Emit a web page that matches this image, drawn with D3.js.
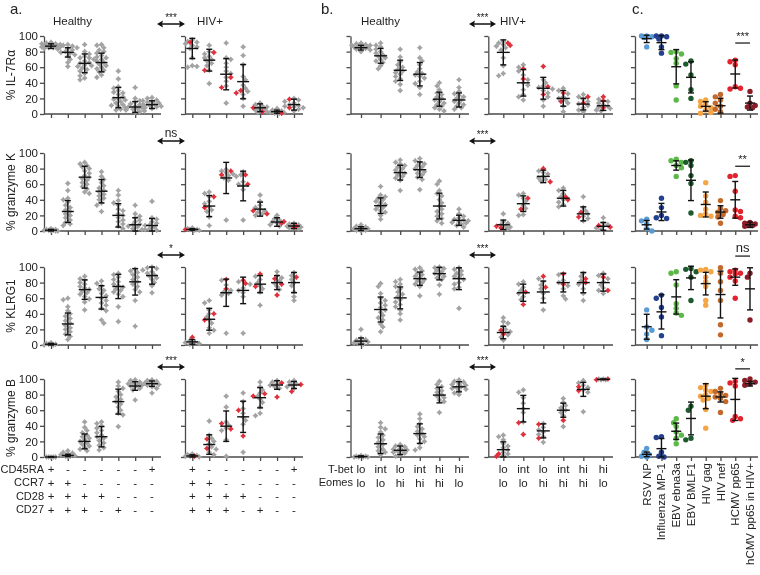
<!DOCTYPE html>
<html><head><meta charset="utf-8">
<script src="https://cdn.jsdelivr.net/npm/d3@7"></script>
<style>
body{margin:0;background:#fff}
svg{display:block;will-change:transform}
text{font-family:"Liberation Sans",Arial,sans-serif;fill:#222}
</style>
</head><body>
<svg id="chart" width="760" height="575"></svg>
<script>
// ---------------- DATA ----------------
const rowTitles = ["% IL-7R\u03b1", "% granzyme K", "% KLRG1", "% granzyme B"];
const aSig = ["***", "ns", "*", "***"];
const bSig = ["***", "***", "***", "***"];
const cSig = ["***", "**", "ns", "*"];
const cSigLevel = [91, 83, 114, 113];

const aMarkers = ["CD45RA", "CCR7", "CD28", "CD27"];
const aSigns = [
  ["+","-","-","-","-","-","+"],
  ["+","+","-","-","-","-","-"],
  ["+","+","+","+","-","-","-"],
  ["+","+","+","-","+","-","-"]
];
const bMarkers = ["T-bet", "Eomes"];
const bSigns = [
  ["lo","int","lo","int","hi","hi"],
  ["lo","lo","hi","hi","hi","lo"]
];
const cCats = ["RSV NP","Influenza MP-1","EBV ebna3a","EBV BMLF1","HIV gag","HIV nef","HCMV pp65","hCMV pp65 in HIV+"];
const cColors = ["#5b9bd5","#24418f","#5cb847","#1d5a2e","#f6a545","#c2692c","#e2232e","#8a1c27"];

// Panel a, healthy
const aH_mean = [
  [87,79,65,66,21,9,12],
  [1,25,69,51,20,8,7],
  [1,27,71,61,75,81,89],
  [0,2,20,26,71,91,94]
];
const aH_sd = [
  [3,6,12,12,13,7,5],
  [1,14,14,15,15,9,9],
  [1,14,12.5,15,15.5,17,11],
  [0.5,1.5,9.5,13,16,5.5,3.5]
];
const aH_pts = [
  [[92,90,89,88,88,87,87,86,86,85,85,84,90,88,86,83,91,87],
   [89,87,86,85,82,80,79,78,76,74,70,66,61,88,84],
   [89,80,77,74,72,70,68,66,65,63,61,59,57,55,52,49,46,44,72,62],
   [89,88,85,82,80,78,75,72,70,68,66,64,62,60,58,56,54,50,47,73],
   [55,45,35,33,30,27,25,22,20,18,16,14,12,10,8,6,5,28,19,11],
   [34,20,17,15,13,11,10,9,8,7,6,5,4,3,2,12],
   [21,20,18,16,15,14,13,12,11,10,9,8,7,17]],
  [[3,2,2,1,1,1,0,0,0],
   [61,52,42,40,37,33,30,27,25,22,20,17,14,11,9,7],
   [88,86,84,82,80,77,74,71,69,67,65,62,60,57,54,50,48],
   [76,70,66,62,58,55,52,50,47,45,42,40,36,33,25],
   [52,46,39,36,33,28,26,22,20,17,14,12,9,6,3],
   [33,22,19,17,14,12,9,8,6,5,3,2],
   [38,17,15,12,10,8,7,5,3,2,1]],
  [[3,2,1,1,0,0],
   [60,58,49,44,40,37,34,31,28,25,22,20,17,14,11,7],
   [88,85,83,80,78,75,73,71,69,67,65,62,59,55,45],
   [82,79,76,72,70,66,63,60,57,54,51,47,44,32,28],
   [92,90,87,84,81,78,76,74,72,70,68,65,62,49,30],
   [97,95,93,90,87,84,81,78,75,71,68,57,24],
   [100,99,98,96,94,92,90,88,86,84,80,76,67]],
  [[0,0,0,0,0],
   [8,6,5,4,3,2,1,1,0],
   [45,38,34,31,28,26,24,22,20,18,16,14,12,10,8],
   [45,43,40,37,34,31,28,26,24,21,18,15,12,9],
   [96,91,88,84,80,77,74,71,68,64,60,56,54,39],
   [99,98,96,95,94,93,92,91,90,88,86,73],
   [99,98,97,96,95,94,93,92,90,88,82]]
];

// Panel a, HIV+
const aV_mean = [
  [84,69,51,41.5,8,3,12],
  [2,32,68,57.7,28,11.5,6.4],
  [4,33,67,70,78,80,80],
  [1.3,16,39.5,51.5,76,92.3,92.3]
];
const aV_sd = [
  [13,14,20,22,5,2,7],
  [1,13.5,20,19,9,5.5,3.5],
  [3,14,17.5,17,11,9,13],
  [1.5,12.5,19.5,20,13,5.5,4.5]
];
const aV_pts = [
  [[95,93,92,90,88,86,84,72,62,60,61],[88,80,77,74,72,70,68,65,62,56,39],[91,72,70,65,60,55,52,47,42,36,14],[86,75,63,48,44,37,33,29,25,20,10],[14,12,10,9,8,7,6,5,3,2],[7,5,4,3,2,1,1,2],[20,18,16,14,12,11,10,9,8,6,4]],
  [[4,3,2,2,1,1],[50,48,44,38,35,31,27,25,18,7],[79,77,75,73,71,68,65,14],[76,72,70,63,60,58,53,14],[46,38,33,30,28,26,24,22,20],[20,16,14,12,10,8,6],[10,9,8,7,6,5,4,3]],
  [[6,4,3,2,1],[57,54,45,40,36,32,28,22,19,15],[83,77,70,68,66,64,15],[81,78,73,70,67,62,15],[88,84,80,76,72,68,51],[94,89,86,82,79,75,71],[93,89,84,80,76,68,62,57]],
  [[4,3,2,1,1,0],[46,28,24,20,17,13,10,6,3],[78,64,45,41,37,34,22,1],[82,71,62,56,51,47,42,6],[96,90,86,82,78,74,70,64,56,53],[98,96,94,92,90,88],[98,96,94,92,90,88]]
];
const aV_red = [
  [[92],[79,56],[47,34],[30,27],[3,8],[1],[19,8]],
  [[2],[44,30],[77,72],[72,60],[26,22],[12,10],[6,5]],
  [[10],[40,32],[84,72],[83,79],[91,75],[78,64,85],[87]],
  [[1],[23,11],[43,36],[60,27],[81,78],[95,77],[84,93]]
];

// Panel b, healthy
const bH_mean = [
  [85,74.6,56,51,19,18],
  [3,32.5,74.8,78.6,32,13.7],
  [5,45.5,60.4,85,91.5,85],
  [0.5,17,8.6,30,79.4,90]
];
const bH_sd = [
  [3,9.5,13,15,9,9],
  [2.5,10,9.5,10,16.5,6.5],
  [4,16,14,8.5,8,14],
  [1,12.5,5.5,12.5,10,6.5]
];
const bH_pts = [
  [[91,90,89,88,87,86,85,84,83,82,80,88,86,87],[91,88,86,83,80,78,76,74,72,70,68,66,62,58],[83,73,67,63,60,57,55,53,51,48,45,42,38,30],[85,72,68,63,58,54,52,50,48,46,42,39,34,25],[40,36,31,27,25,22,20,18,16,14,12,10,8,6,4],[44,34,29,26,24,22,20,18,16,14,12,10,8,6]],
  [[8,6,5,4,3,3,2,2,1,1,0],[57,46,44,42,40,38,36,34,32,30,28,26,24,20,15],[91,88,86,84,82,80,78,76,74,72,70,68,65,52],[93,90,88,86,84,82,80,78,76,74,72,69,66,53],[64,60,52,48,45,40,36,32,28,25,22,19,16,13,10],[28,22,19,17,15,14,13,12,11,10,9,7,5]],
  [[20,9,7,6,5,4,3,2,1],[79,75,66,60,57,54,51,48,45,42,38,35,32,27,23,17],[84,81,78,75,72,68,65,62,58,55,52,49,45,40,32],[99,97,95,92,90,88,86,84,82,80,78,75,63],[100,99,98,96,94,92,90,88,86,84,77,65],[99,97,95,92,90,88,86,84,80,78,74,72,47]],
  [[2,1,1,0,0,0,0],[44,38,36,32,28,25,22,19,16,13,10,8,6,3],[16,14,13,11,10,9,8,7,6,5,3,1],[55,49,43,39,36,33,30,28,26,23,20,17,12,9],[97,93,90,88,85,83,80,78,76,73,71,57],[99,97,96,94,93,92,90,89,88,87,85,82,80]]
];

// Panel b, HIV+
const bV_mean = [
  [79,40,33,20,12.7,10.6],
  [8,35,70,42,22,6],
  [16,67,68,80,80,80],
  [9.4,62,33.5,60,86.7,99.6]
];
const bV_sd = [
  [16,17,14,10,7.5,6],
  [6,10,8,10,9,5],
  [8,11,14,12,13,11],
  [10,17,9,9,9,0.5]
];
const bV_pts = [
  [[93,91,89,87,85,82,72,62,52,49],[63,60,55,50,44,40,37,31,25,22,18],[44,40,36,34,32,30,27,22,18,10],[33,30,26,22,20,18,14,10,3],[25,22,19,16,13,11,8,5,3],[19,16,14,12,10,9,7,5,4]],
  [[22,12,10,8,6,5,3],[48,46,42,38,33,29,20,21],[77,75,73,70,68,66,64],[55,52,48,44,40,37,34,31],[44,30,26,22,19,16,13],[17,10,8,6,4,2]],
  [[35,30,28,24,20,17,13,10,6],[81,78,74,70,66,62,58],[85,81,77,72,66,60,45],[90,83,80,76,72,63,59],[92,88,82,78,72,66,57],[92,89,85,81,77,73,70,66]],
  [[28,26,22,17,14,12,9,6,4,2],[86,83,76,69,62,57,45],[43,38,35,32,29,26,19],[75,70,66,63,60,57,53,39],[98,95,92,89,86,83,58],[100,100,99,99]]
];
const bV_red = [
  [[91,88],[58,45],[61,25,35],[27,16],[22,14],[22,17,8]],
  [[6,4],[42,28],[80,63],[44,40],[24,18],[7,5]],
  [[19,14],[52,68],[88,74],[91,78],[85,80],[87,70]],
  [[4,1],[44,29],[42,24],[47],[85,90],[100,99]]
];

// Panel c
const c_mean = [
  [96.6,91.5,60.6,47,9.7,10.6,51.3,14],
  [8,24.4,84,65,34,24.4,40,8],
  [23.4,42.5,61.7,86,78.7,64.7,87,72],
  [3.4,10.7,33,49.4,78,77,73.8,94]
];
const c_sd = [
  [5,9,22,20,6,9.5,18,9],
  [5.5,11,6,26,16,8,23.5,3.5],
  [16,22,22,15,14.5,30,10.5,27],
  [3,13,10.5,21,16,6.5,27,3]
];
const c_pts = [
  [[100,100,99,98,86],[100,100,99,96,86,78],[80,79,77,71,65,36,18],[68,64,50,31,20],[18,16,12,10,8,5,2,1],[25,22,18,14,10,6,3],[69,67,63,35,33,32],[29,14,11,9,8]],
  [[15,13,9,3,0],[42,30,20,17,16],[92,90,88,84,81,70],[90,88,84,71,61,23],[62,45,37,28,22,20,19],[39,29,26,24,21,18,10],[71,70,51,27,25,19,17],[11,10,9,8,7,6]],
  [[45,23,19,14,7],[64,60,48,36,12],[94,92,77,53,47,41,38],[98,97,94,87,57],[97,96,94,87,81,75,57,51],[99,92,81,70,57,26,13],[96,94,92,91,87,82,60],[92,87,32]],
  [[11,6,3,1,0],[26,25,6,1,0],[49,44,39,32,28,24,17],[65,60,24,22],[92,89,86,84,80,78,75,73,61,37],[88,84,81,79,77,75,71,57],[97,95,91,52,49,47],[100,98,96,94,92]]
];

// ---------------- DRAWING ----------------
const svg = d3.select("#chart");
const rowTop = [36, 153, 267, 379];
const rowH = 78;
const GRAY = "#a3a3a3", RED = "#e0303c", AX = "#4a4a4a";

const panels = [
  {axisX:44,  x0:51,    x1:152,   end:161, n:7, mean:aH_mean, sd:aH_sd, pts:aH_pts, red:null,   mw:6,   labels:true},
  {axisX:185, x0:192.3, x1:294,   end:303, n:7, mean:aV_mean, sd:aV_sd, pts:aV_pts, red:aV_red, mw:6,   labels:false},
  {axisX:350.5, x0:361, x1:459,   end:469, n:6, mean:bH_mean, sd:bH_sd, pts:bH_pts, red:null,   mw:6.5, labels:false},
  {axisX:488.3, x0:503.3, x1:603.3, end:613, n:6, mean:bV_mean, sd:bV_sd, pts:bV_pts, red:bV_red, mw:6.5, labels:false},
  {axisX:635, x0:646.7, x1:750,   end:758, n:8, mean:c_mean, sd:c_sd, pts:c_pts, red:null,   mw:5,   labels:false, circles:true}
];

const star = "M0,-3L1.3,-1.3L3,0L1.3,1.3L0,3L-1.3,1.3L-3,0L-1.3,-1.3Z";

function swarm(items, yScale, step, minD, maxK) {
  const sorted = items.slice().sort((a, b) => b.v - a.v);
  const placed = [];
  sorted.forEach((it, i) => {
    const py = yScale(it.v);
    const offs = [0];
    for (let k = 1; k <= maxK; k++) {
      if (i % 2) offs.push(-k * step, k * step); else offs.push(k * step, -k * step);
    }
    let best = offs[0], bestD = -1;
    for (const o of offs) {
      let dmin = Infinity;
      for (const p of placed) dmin = Math.min(dmin, Math.hypot(p.dx - o, p.py - py));
      if (dmin >= minD) { best = o; bestD = dmin; break; }
      if (dmin > bestD) { bestD = dmin; best = o; }
    }
    placed.push({dx: best, py: py, red: it.red, color: it.color});
  });
  return placed;
}

rowTop.forEach((top, r) => {
  const y = d3.scaleLinear().domain([0, 100]).range([top + rowH, top]);
  panels.forEach((P, pi) => {
    const x = d3.scalePoint().domain(d3.range(P.n)).range([P.x0, P.x1]);
    const g = svg.append("g");
    // y axis
    const ya = g.append("g").attr("transform", `translate(${P.axisX},0)`)
      .call(d3.axisLeft(y).tickValues([0,20,40,60,80,100]).tickSize(4).tickSizeOuter(0)
        .tickFormat(P.labels ? d3.format("d") : () => ""));
    ya.select(".domain").attr("stroke", AX).attr("stroke-width", 1.3);
    ya.selectAll(".tick line").attr("stroke", AX).attr("stroke-width", 1.3);
    ya.selectAll(".tick text").attr("font-size", 11.5).attr("fill", "#333").attr("x", -6)
      .style("font-family", '"Liberation Sans",Arial,sans-serif');
    // x baseline + ticks
    g.append("line").attr("x1", P.axisX).attr("x2", P.end).attr("y1", y(0)).attr("y2", y(0))
      .attr("stroke", AX).attr("stroke-width", 1.3);
    const xa = g.append("g").attr("transform", `translate(0,${y(0)})`)
      .call(d3.axisBottom(x).tickSize(4).tickSizeOuter(0).tickFormat(() => ""));
    xa.select(".domain").remove();
    xa.selectAll(".tick line").attr("stroke", AX).attr("stroke-width", 1.3);

    // points
    for (let k = 0; k < P.n; k++) {
      const cx = x(k);
      let items = P.pts[r][k].map(v => ({v: v, red: false, color: P.circles ? cColors[k] : GRAY}));
      if (P.red) items = items.concat(P.red[r][k].map(v => ({v: v, red: true, color: RED})));
      const many = items.length > 12;
      const placed = P.circles ? swarm(items, y, 2.6, 4.6, 2)
                               : swarm(items, y, 2.3, 3.6, many ? 4 : 3);
      placed.sort((a, b) => (a.red ? 1 : 0) - (b.red ? 1 : 0));
      placed.forEach(p => {
        if (P.circles) {
          g.append("circle").attr("cx", cx + p.dx).attr("cy", p.py).attr("r", 2.7).attr("fill", p.color);
        } else {
          g.append("path").attr("d", star).attr("transform", `translate(${cx + p.dx},${p.py})`).attr("fill", p.color);
        }
      });
      // mean +/- SD
      const m = P.mean[r][k], s = P.sd[r][k];
      const yTop = y(Math.min(101, m + s)), yBot = y(Math.max(0, m - s)), yM = y(m);
      const eb = g.append("g").attr("stroke", "#111").attr("stroke-width", 1.4).attr("fill", "none");
      eb.append("line").attr("x1", cx).attr("x2", cx).attr("y1", yTop).attr("y2", yBot);
      eb.append("line").attr("x1", cx - 3).attr("x2", cx + 3).attr("y1", yTop).attr("y2", yTop);
      eb.append("line").attr("x1", cx - 3).attr("x2", cx + 3).attr("y1", yBot).attr("y2", yBot);
      eb.append("line").attr("x1", cx - P.mw).attr("x2", cx + P.mw).attr("y1", yM).attr("y2", yM);
    }

    // panel c significance bar
    if (P.circles) {
      const ly = y(cSigLevel[r]);
      g.append("line").attr("x1", x(6)).attr("x2", x(7)).attr("y1", ly).attr("y2", ly)
        .attr("stroke", "#222").attr("stroke-width", 1.3);
      const big = cSig[r] === "ns";
      g.append("text").attr("x", (x(6) + x(7)) / 2).attr("y", ly - (big ? 4 : 3))
        .attr("text-anchor", "middle").attr("font-size", big ? 13 : 11).text(cSig[r]);
    }
  });

  // y title
  svg.append("text").attr("transform", `translate(15,${top + rowH / 2}) rotate(-90)`)
    .attr("text-anchor", "middle").attr("font-size", 12).text(rowTitles[r]);

  // double arrows between healthy and HIV+
  [[157, 185, aSig[r]], [469, 496, bSig[r]]].forEach(([xa, xb, lab]) => {
    const ay = top - 12;
    const ag = svg.append("g");
    ag.append("line").attr("x1", xa + 4).attr("x2", xb - 4).attr("y1", ay).attr("y2", ay)
      .attr("stroke", "#111").attr("stroke-width", 1.5);
    ag.append("path").attr("d", `M${xa},${ay}L${xa + 6},${ay - 3.5}L${xa + 5},${ay}L${xa + 6},${ay + 3.5}Z`).attr("fill", "#111");
    ag.append("path").attr("d", `M${xb},${ay}L${xb - 6},${ay - 3.5}L${xb - 5},${ay}L${xb - 6},${ay + 3.5}Z`).attr("fill", "#111");
    const big = lab === "ns";
    ag.append("text").attr("x", (xa + xb) / 2).attr("y", ay - (big ? 4 : 3))
      .attr("text-anchor", "middle").attr("font-size", big ? 12 : 10).text(lab);
  });
});

// panel headings
const heads = [["a.", 10, 14, 15], ["Healthy", 53, 25, 11.5], ["HIV+", 197, 25, 11.5],
               ["b.", 321, 14, 15], ["Healthy", 361, 25, 11.5], ["HIV+", 500, 25, 11.5],
               ["c.", 632, 14, 15]];
heads.forEach(([t, hx, hy, fs]) => svg.append("text").attr("x", hx).attr("y", hy).attr("font-size", fs).text(t));

// panel a x labels
const aRowsY = [469, 482.5, 496, 509.5];
aMarkers.forEach((mk, i) => {
  svg.append("text").attr("x", 44).attr("y", aRowsY[i]).attr("dy", "0.35em")
    .attr("text-anchor", "end").attr("font-size", 11).text(mk);
  [panels[0], panels[1]].forEach(P => {
    const x = d3.scalePoint().domain(d3.range(P.n)).range([P.x0, P.x1]);
    aSigns[i].forEach((s, k) => svg.append("text").attr("x", x(k)).attr("y", aRowsY[i]).attr("dy", "0.35em")
      .attr("text-anchor", "middle").attr("font-size", 11.5).text(s));
  });
});

// panel b x labels
const bRowsY = [469, 482.5];
bMarkers.forEach((mk, i) => {
  svg.append("text").attr("x", 353).attr("y", bRowsY[i]).attr("dy", "0.35em")
    .attr("text-anchor", "end").attr("font-size", 11).text(mk);
  [panels[2], panels[3]].forEach(P => {
    const x = d3.scalePoint().domain(d3.range(P.n)).range([P.x0, P.x1]);
    bSigns[i].forEach((s, k) => svg.append("text").attr("x", x(k)).attr("y", bRowsY[i]).attr("dy", "0.35em")
      .attr("text-anchor", "middle").attr("font-size", 11.5).text(s));
  });
});

// panel c x labels
{
  const P = panels[4];
  const x = d3.scalePoint().domain(d3.range(P.n)).range([P.x0, P.x1]);
  cCats.forEach((c, k) => svg.append("text")
    .attr("transform", `translate(${x(k)},463) rotate(-90)`).attr("dy", "0.35em")
    .attr("text-anchor", "end").attr("font-size", 11.5).text(c));
}
</script>
</body></html>
